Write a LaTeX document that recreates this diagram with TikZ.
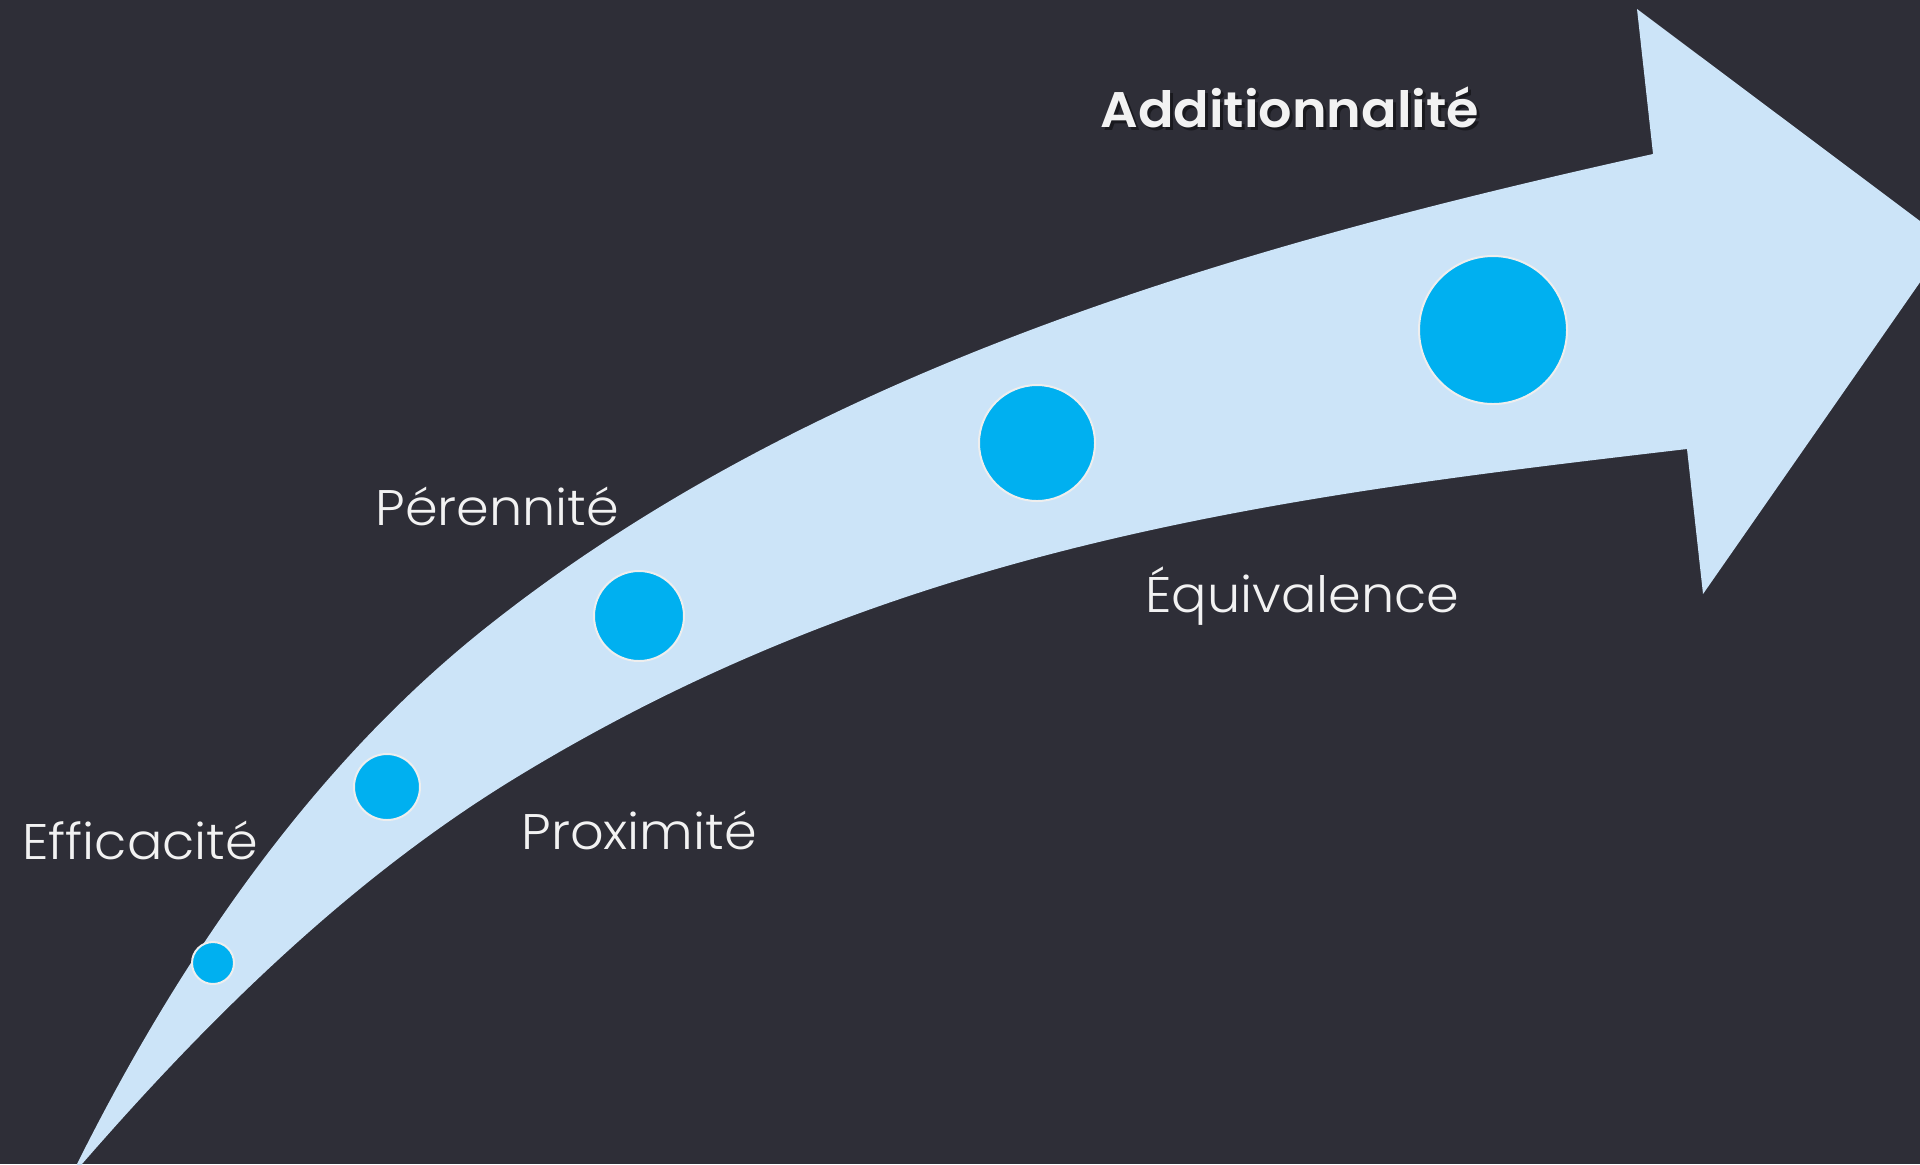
\documentclass[tikz,border=0pt]{standalone}
\usepackage{fontspec}
\setmainfont{Poppins}[UprightFont={* Light}, BoldFont={* SemiBold}, FakeStretch=1.05]
\definecolor{bgc}{HTML}{2E2E37}
\definecolor{arrowc}{HTML}{CCE4F8}
\definecolor{dotc}{HTML}{00B0F0}
\definecolor{ringc}{HTML}{EEEEEE}
\definecolor{txtc}{HTML}{F2F2F2}
\tikzset{
  dot/.style={circle, fill=dotc, draw=ringc, line width=1pt, inner sep=0pt, minimum size=#1},
  lbl/.style={anchor=base west, inner sep=0pt, text=txtc, font=\fontsize{25}{30}\selectfont},
  ttl/.style={anchor=base west, inner sep=0pt, text=txtc, font=\fontsize{25}{30}\selectfont\bfseries},
}
\begin{document}
\begin{tikzpicture}[x=0.5pt, y=-0.5pt]
\useasboundingbox (0,0) rectangle (1920,1164);
\fill[bgc] (0,0) rectangle (1920,1164);
\begin{scope}
\clip (0,0) rectangle (1920,1164);
\fill[arrowc] (77,1164) .. controls (177,964) and (308,770) .. (483,630)
  .. controls (812,367) and (1242,245) .. (1653,154)
  -- (1637,9) -- (1948,242) -- (1703,594) -- (1687,449)
  .. controls (1285,496) and (901,543) .. (517,777)
  .. controls (351,878) and (209,1018) .. (82,1164)
  -- (80,1180) -- cycle;
\end{scope}
\node[dot=21pt] (d1) at (213,963) {};
\node[dot=33pt] (d2) at (387,787) {};
\node[dot=45pt] (d3) at (639,616) {};
\node[dot=58pt] (d4) at (1037,443) {};
\node[dot=74pt] (d5) at (1493,330) {};
\node[lbl] (eff) at (22,859) {Efficacité};
\node[lbl] (per) at (375,525) {Pérennité};
\node[lbl] (pro) at (521,849) {Proximité};
\node[lbl] (equ) at (1145,612) {Équivalence};
\node[ttl, text=black, opacity=0.45] (adds) at (1103,130) {Additionnalité};
\node[ttl] (add) at (1100,127) {Additionnalité};
\end{tikzpicture}
\end{document}
